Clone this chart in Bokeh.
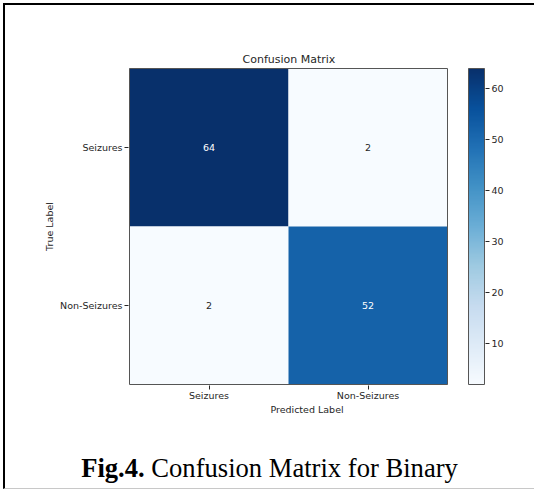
import numpy as np
from bokeh.plotting import figure
from bokeh.layouts import column
from bokeh.models import (Range1d, LinearAxis, FixedTicker, LinearColorMapper,
                          ColumnDataSource, Div)
from bokeh.palettes import Blues256
from bokeh.embed import file_html
from bokeh.resources import INLINE

# ---------------- data ----------------
classes = ["Seizures", "Non-Seizures"]
true_labels = ["Seizures", "Seizures", "Non-Seizures", "Non-Seizures"]
pred_labels = ["Seizures", "Non-Seizures", "Seizures", "Non-Seizures"]
counts = [64, 2, 2, 52]
cbar_ticks = [10, 20, 30, 40, 50, 60]
title_text = "Confusion Matrix"
x_title = "Predicted Label"
y_title = "True Label"
caption_bold = "Fig.4."
caption_rest = "Confusion Matrix for Binary"

# ---------------- layout constants (canvas px) ----------------
W, H = 529, 430           # main figure
CH = 53                   # caption strip
HL, HR, HT, HB = 124, 442, 63, 379      # heatmap box
CBL, CBR = 463, 479                      # colorbar box
FONT = "DejaVu Sans"
TXT = "#262626"
CAP = 26.6                # caption font size

n = len(classes)
vmin, vmax = min(counts), max(counts)
sx = (HR - HL) / n
sy = (HB - HT) / n
ky = (vmax - vmin) / (HB - HT)

pal = list(Blues256)
def _lum(c):
    c = c.lstrip("#")
    return sum(int(c[i:i + 2], 16) for i in (0, 2, 4))
if _lum(pal[0]) < _lum(pal[-1]):
    pal = pal[::-1]          # light -> dark
mapper = LinearColorMapper(palette=pal, low=vmin, high=vmax)

xs = [classes.index(c) + 0.5 for c in pred_labels]
ys = [n - classes.index(c) - 0.5 for c in true_labels]
thresh = vmax / 2
tcol = ["white" if v > thresh else TXT for v in counts]
src = ColumnDataSource(dict(x=xs, y=ys, v=counts, t=[str(v) for v in counts], c=tcol))

p = figure(width=W, height=H, output_backend="svg", toolbar_location=None,
           x_range=Range1d(-1 / sx, (CBR + 1 - HL) / sx),
           y_range=Range1d(-1 / sy, n + 1 / sy),
           min_border_left=HL - 1, min_border_right=W - (CBR + 1),
           min_border_top=HT - 1, min_border_bottom=H - (HB + 1),
           tools="")
p.extra_y_ranges = {"cb": Range1d(vmin - ky, vmax + ky)}
p.outline_line_color = None
p.grid.visible = False
p.background_fill_color = "white"
p.border_fill_color = "white"

# heatmap cells
p.rect(x="x", y="y", width=1, height=1, source=src,
       fill_color={"field": "v", "transform": mapper}, line_color=None)
p.text(x="x", y="y", text="t", source=src, text_color="c",
       text_align="center", text_baseline="middle",
       text_font_size="9.5px", text_font={"value": FONT})
p.quad(left=[0], right=[n], bottom=[0], top=[n], fill_color=None,
       line_color="#555555", line_width=1)

# colorbar
cb_x0 = (CBL - HL) / sx
cb_x1 = (CBR - HL) / sx
grad = np.linspace(vmin, vmax, 256).reshape(256, 1)
p.image(image=[grad], x=cb_x0, y=vmin, dw=cb_x1 - cb_x0, dh=vmax - vmin,
        color_mapper=mapper, y_range_name="cb")
p.quad(left=[cb_x0], right=[cb_x1], bottom=[vmin], top=[vmax], fill_color=None,
       line_color="#555555", line_width=1, y_range_name="cb")

# axes
centers = [i + 0.5 for i in range(n)]
xa = p.xaxis[0]
xa.ticker = FixedTicker(ticks=centers)
xa.major_label_overrides = {c: classes[i] for i, c in enumerate(centers)}
xa.axis_label = x_title
ya = p.yaxis[0]
ya.ticker = FixedTicker(ticks=centers)
ya.major_label_overrides = {c: classes[n - 1 - i] for i, c in enumerate(centers)}
ya.axis_label = y_title
ra = LinearAxis(y_range_name="cb", ticker=FixedTicker(ticks=cbar_ticks))
p.add_layout(ra, "right")

for ax in (xa, ya, ra):
    ax.axis_line_color = None
    ax.major_tick_in = 0
    ax.major_tick_out = 4
    ax.major_tick_line_color = TXT
    ax.minor_tick_line_color = None
    ax.major_label_text_font = FONT
    ax.major_label_text_font_size = "9.5px"
    ax.major_label_text_color = TXT
    ax.axis_label_text_font = FONT
    ax.axis_label_text_font_size = "9.5px"
    ax.axis_label_text_font_style = "normal"
    ax.axis_label_text_color = TXT
xa.major_label_standoff = 0
xa.axis_label_standoff = 0
ya.major_label_standoff = 2
ya.axis_label_standoff = 2
ra.major_label_standoff = 2

# title
p.title.text = title_text
p.title.align = "left"
p.title.offset = (HR - HL) / 2 - 46 + 1
p.title.standoff = 4
p.title.text_font = FONT
p.title.text_font_size = "11px"
p.title.text_font_style = "normal"
p.title.text_color = TXT

# caption (real HTML text)
cap_html = (
    f'<div style="font-family:\'Liberation Serif\',serif; font-size:{CAP}px; '
    f'line-height:26px; margin:0; padding-top:20px; padding-left:5px; '
    f'text-align:center; width:{W - 5}px; color:black; white-space:nowrap;">'
    f'<b>{caption_bold}</b> {caption_rest}</div>'
)
cap = Div(text=cap_html, width=W, height=CH, margin=0)

root = column(p, cap, margin=(3, 0, 0, 3),
              styles={"border-left": "2px solid black",
                      "border-top": "2px solid black",
                      "border-bottom": "1px solid #c8c8c8"})

open("out.html", "w").write(file_html(root, INLINE))
